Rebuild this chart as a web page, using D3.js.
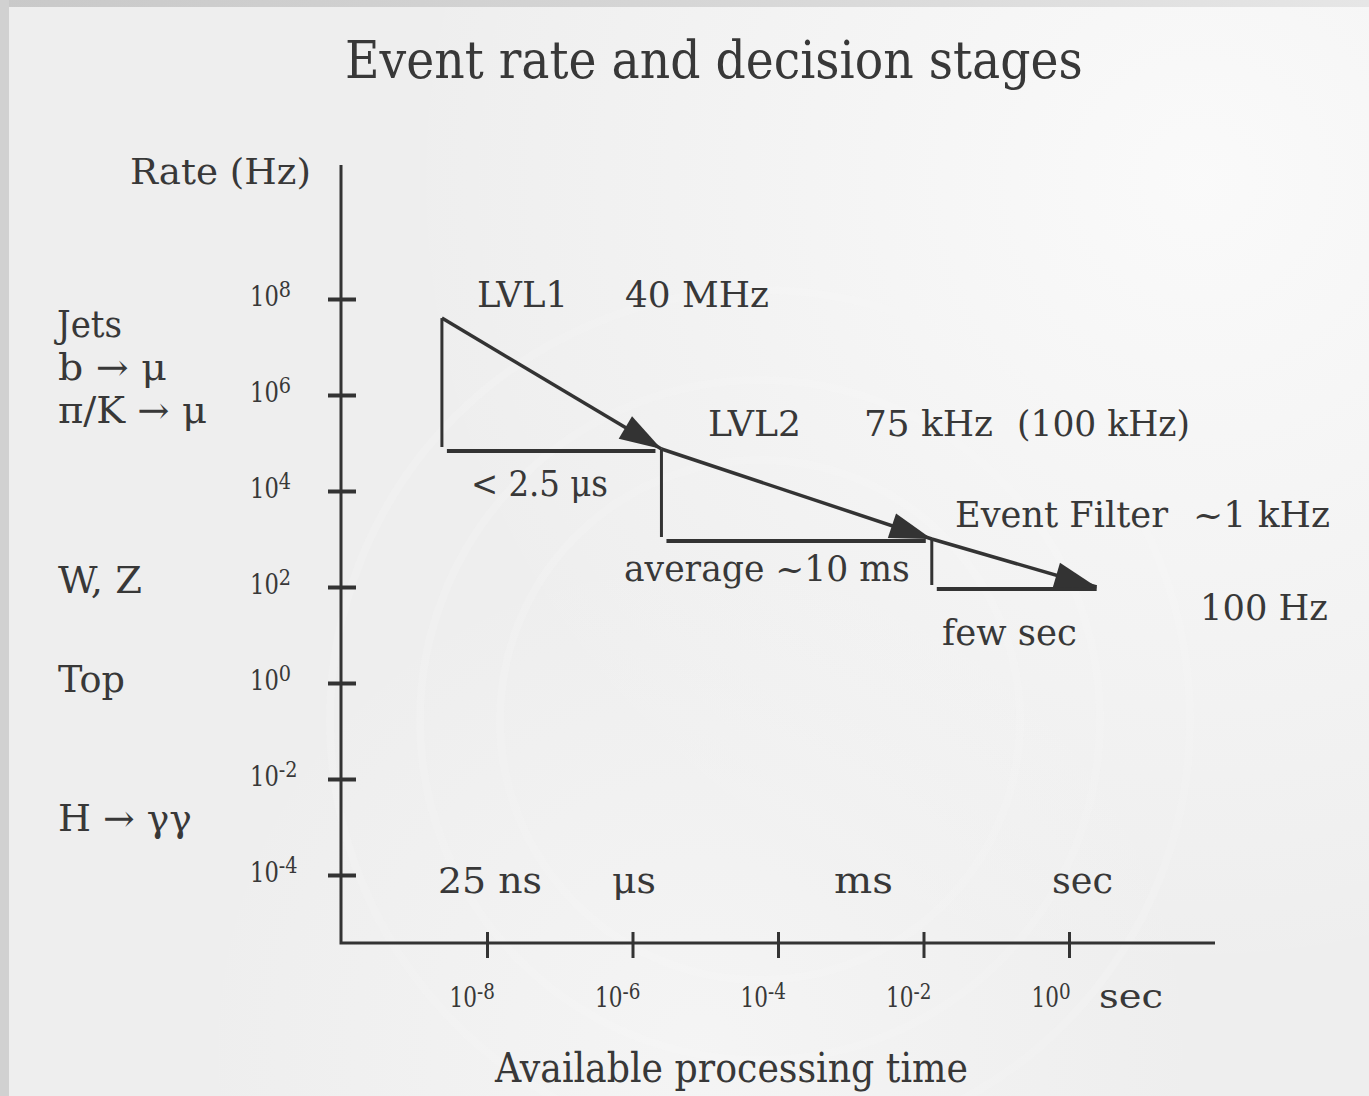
<!DOCTYPE html>
<html>
<head>
<meta charset="utf-8">
<script src="https://cdn.jsdelivr.net/npm/d3@7"></script>
<style>
  html, body { margin: 0; padding: 0; background: #efefef; overflow: hidden; }
  svg { display: block; }
</style>
</head>
<body>
<svg id="chart" width="1369" height="1096"></svg>
<script>
// Trigger chain: each stage's available processing time (s) and output rate (Hz)
const stageNames = ["LVL1", "LVL2", "Event Filter", "Storage"];
const stageTimes = [2.4e-9, 2.5e-6, 1.3e-2, 2.4];
const stageRates = [4e7, 7.5e4, 1e3, 1e2];

// Axis ticks
const rateTickValues = [1e8, 1e6, 1e4, 1e2, 1e0, 1e-2, 1e-4];
const rateTickExponents = ["8", "6", "4", "2", "0", "-2", "-4"];
const timeTickValues = [1e-8, 1e-6, 1e-4, 1e-2, 1e0];
const timeTickExponents = ["-8", "-6", "-4", "-2", "0"];

// Annotation texts
const physicsLabels = ["Jets", "b \u2192 \u03bc", "\u03c0/K \u2192 \u03bc", "W, Z", "Top", "H \u2192 \u03b3\u03b3"];
const rateLabels = ["40 MHz", "75 kHz", "(100 kHz)", "~1 kHz", "100 Hz"];
const latencyLabels = ["< 2.5 \u03bcs", "average ~10 ms", "few sec"];
const timeUnitLabels = ["25 ns", "\u03bcs", "ms", "sec"];

const W = 1369, H = 1096;
const ink = "#383838";
const lineInk = "#333333";
const serif = "'DejaVu Serif', 'Liberation Serif', serif";

const svg = d3.select("#chart");

// ---------- background ----------
const defs = svg.append("defs");
const g1 = defs.append("radialGradient").attr("id", "glowTR")
  .attr("gradientUnits", "userSpaceOnUse").attr("cx", 1200).attr("cy", 180).attr("r", 800);
g1.append("stop").attr("offset", 0).attr("stop-color", "#fbfbfb").attr("stop-opacity", 0.9);
g1.append("stop").attr("offset", 1).attr("stop-color", "#fbfbfb").attr("stop-opacity", 0);
const g2 = defs.append("radialGradient").attr("id", "glowB")
  .attr("gradientUnits", "userSpaceOnUse").attr("cx", 700).attr("cy", 1050).attr("r", 500);
g2.append("stop").attr("offset", 0).attr("stop-color", "#f6f6f6").attr("stop-opacity", 0.8);
g2.append("stop").attr("offset", 1).attr("stop-color", "#f6f6f6").attr("stop-opacity", 0);
const topGrad = defs.append("linearGradient").attr("id", "topStrip");
topGrad.append("stop").attr("offset", 0).attr("stop-color", "#c9c9c9");
topGrad.append("stop").attr("offset", 0.5).attr("stop-color", "#d6d6d6");
topGrad.append("stop").attr("offset", 1).attr("stop-color", "#e6e6e6");

svg.append("rect").attr("width", W).attr("height", H).attr("fill", "#eeeeee");
svg.append("rect").attr("width", W).attr("height", H).attr("fill", "url(#glowTR)");
svg.append("rect").attr("width", W).attr("height", H).attr("fill", "url(#glowB)");
// faint detector rings
[260, 340, 430].forEach(r => {
  svg.append("circle").attr("cx", 760).attr("cy", 720).attr("r", r)
    .attr("fill", "none").attr("stroke", "#f8f8f8").attr("stroke-opacity", 0.18).attr("stroke-width", 8);
});
svg.append("rect").attr("x", 0).attr("y", 0).attr("width", W).attr("height", 7).attr("fill", "url(#topStrip)");
svg.append("rect").attr("x", 0).attr("y", 0).attr("width", 9).attr("height", H).attr("fill", "#d1d1d1");

// ---------- text helper ----------
function placeText(parent, content, x, y, size, fit) {
  const t = parent.append("text")
    .attr("font-family", serif).attr("font-size", size).attr("fill", ink)
    .attr("text-anchor", "start");
  const parts = typeof content === "string" ? [{ text: content }] : content;
  parts.forEach((p, i) => {
    const s = t.append("tspan").text(p.text);
    if (p.sup) s.attr("font-size", size * 0.85).attr("dy", -size * 0.3);
    else if (i > 0 && parts[i - 1].sup) s.attr("dy", size * 0.3);
  });
  let sx = 1;
  if (fit && fit.width) sx = fit.width / t.node().getComputedTextLength();
  else if (fit && fit.sx) sx = fit.sx;
  t.attr("transform", `translate(${x},${y}) scale(${sx},1)`);
  return t;
}

// ---------- scales ----------
const x = d3.scaleLog().domain([1e-8, 1]).range([487, 1069]);
const y = d3.scaleLog().domain([1e-4, 1e8]).range([875, 299]);

const axisX0 = 341, axisY0 = 943, axisTop = 165, axisRight = 1215;

// ---------- axes ----------
const yAxisG = svg.append("g").attr("transform", `translate(${axisX0},0)`)
  .call(d3.axisLeft(y).tickValues(rateTickValues).tickSize(13).tickFormat(() => ""));
yAxisG.select(".domain").remove();
yAxisG.selectAll(".tick line").attr("x1", 15).attr("x2", -13)
  .attr("stroke", lineInk).attr("stroke-width", 4);
yAxisG.selectAll(".tick text").remove();
yAxisG.selectAll(".tick").each(function (d, i) {
  placeText(d3.select(this), [{ text: "10" }, { text: rateTickExponents[i], sup: true }],
    -91, 6, 27, { sx: 0.84 });
});

const xAxisG = svg.append("g").attr("transform", `translate(0,${axisY0})`)
  .call(d3.axisBottom(x).tickValues(timeTickValues).tickSize(13).tickFormat(() => ""));
xAxisG.select(".domain").remove();
xAxisG.selectAll(".tick line").attr("y1", -11).attr("y2", 15)
  .attr("stroke", lineInk).attr("stroke-width", 3);
xAxisG.selectAll(".tick text").remove();
xAxisG.selectAll(".tick").each(function (d, i) {
  placeText(d3.select(this), [{ text: "10" }, { text: timeTickExponents[i], sup: true }],
    -38, 64, 27, { sx: 0.8 });
});

svg.append("path")
  .attr("d", `M${axisX0},${axisTop}V${axisY0}H${axisRight}`)
  .attr("fill", "none").attr("stroke", lineInk).attr("stroke-width", 3);

// ---------- staircase of decision stages ----------
const pts = stageTimes.map((t, i) => [x(t), y(stageRates[i])]);
const marks = svg.append("g");
for (let i = 0; i < pts.length - 1; i++) {
  const [x0, y0] = pts[i], [x1, y1] = pts[i + 1];
  // rate reduction (vertical)
  marks.append("line").attr("x1", x0).attr("x2", x0).attr("y1", y0).attr("y2", y1 - 2)
    .attr("stroke", lineInk).attr("stroke-width", 3);
  // processing time (horizontal)
  marks.append("line").attr("x1", x0 + 5).attr("x2", x1 - (i === pts.length - 2 ? 0 : 6))
    .attr("y1", y1 + 2).attr("y2", y1 + 2)
    .attr("stroke", lineInk).attr("stroke-width", 4);
  // flow to next stage
  marks.append("line").attr("x1", x0).attr("y1", y0).attr("x2", x1).attr("y2", y1)
    .attr("stroke", lineInk).attr("stroke-width", 3.5);
  const dx = x1 - x0, dy = y1 - y0, len = Math.hypot(dx, dy);
  const ux = dx / len, uy = dy / len, L = 42, Wd = 13;
  const bx = x1 - ux * L, by = y1 - uy * L;
  marks.append("path")
    .attr("d", `M${x1},${y1}L${bx - uy * Wd},${by + ux * Wd}L${bx + uy * Wd},${by - ux * Wd}Z`)
    .attr("fill", lineInk);
}

// ---------- texts ----------
const T = svg.append("g");
placeText(T, "Event rate and decision stages", 345, 78, 52, { width: 738 });
placeText(T, "Rate (Hz)", 130, 184, 35, { width: 181 });

const physPos = [[57, 337, 65], [58, 380, 109], [58, 423, 149], [58, 593, 84], [58, 692, 67], [58, 831, 134]];
physicsLabels.forEach((s, i) => placeText(T, s, physPos[i][0], physPos[i][1], 37, { width: physPos[i][2] }));

// stage names and rates
placeText(T, stageNames[0], 477, 307, 35, { width: 91 });
placeText(T, rateLabels[0], 625, 307, 35, { width: 144 });
placeText(T, stageNames[1], 708, 436, 35, { width: 93 });
placeText(T, rateLabels[1], 864, 436, 35, { width: 129 });
placeText(T, rateLabels[2], 1017, 436, 35, { width: 173 });
placeText(T, stageNames[2], 955, 527, 35, { width: 213 });
placeText(T, rateLabels[3], 1193, 527, 35, { width: 137 });
placeText(T, rateLabels[4], 1200, 620, 35, { width: 128 });

// latencies
placeText(T, latencyLabels[0], 471, 496, 35, { width: 137 });
placeText(T, latencyLabels[1], 624, 581, 35, { width: 286 });
placeText(T, latencyLabels[2], 942, 645, 35, { width: 135 });

// time-scale units along the bottom
const unitPos = [[438, 104], [612, 44], [834, 59], [1052, 61]];
timeUnitLabels.forEach((s, i) => placeText(T, s, unitPos[i][0], 893, 36, { width: unitPos[i][1] }));

placeText(T, "sec", 1099, 1008, 34, { width: 64 });
placeText(T, "Available processing time", 495, 1082, 41, { width: 473 });
</script>
</body>
</html>
